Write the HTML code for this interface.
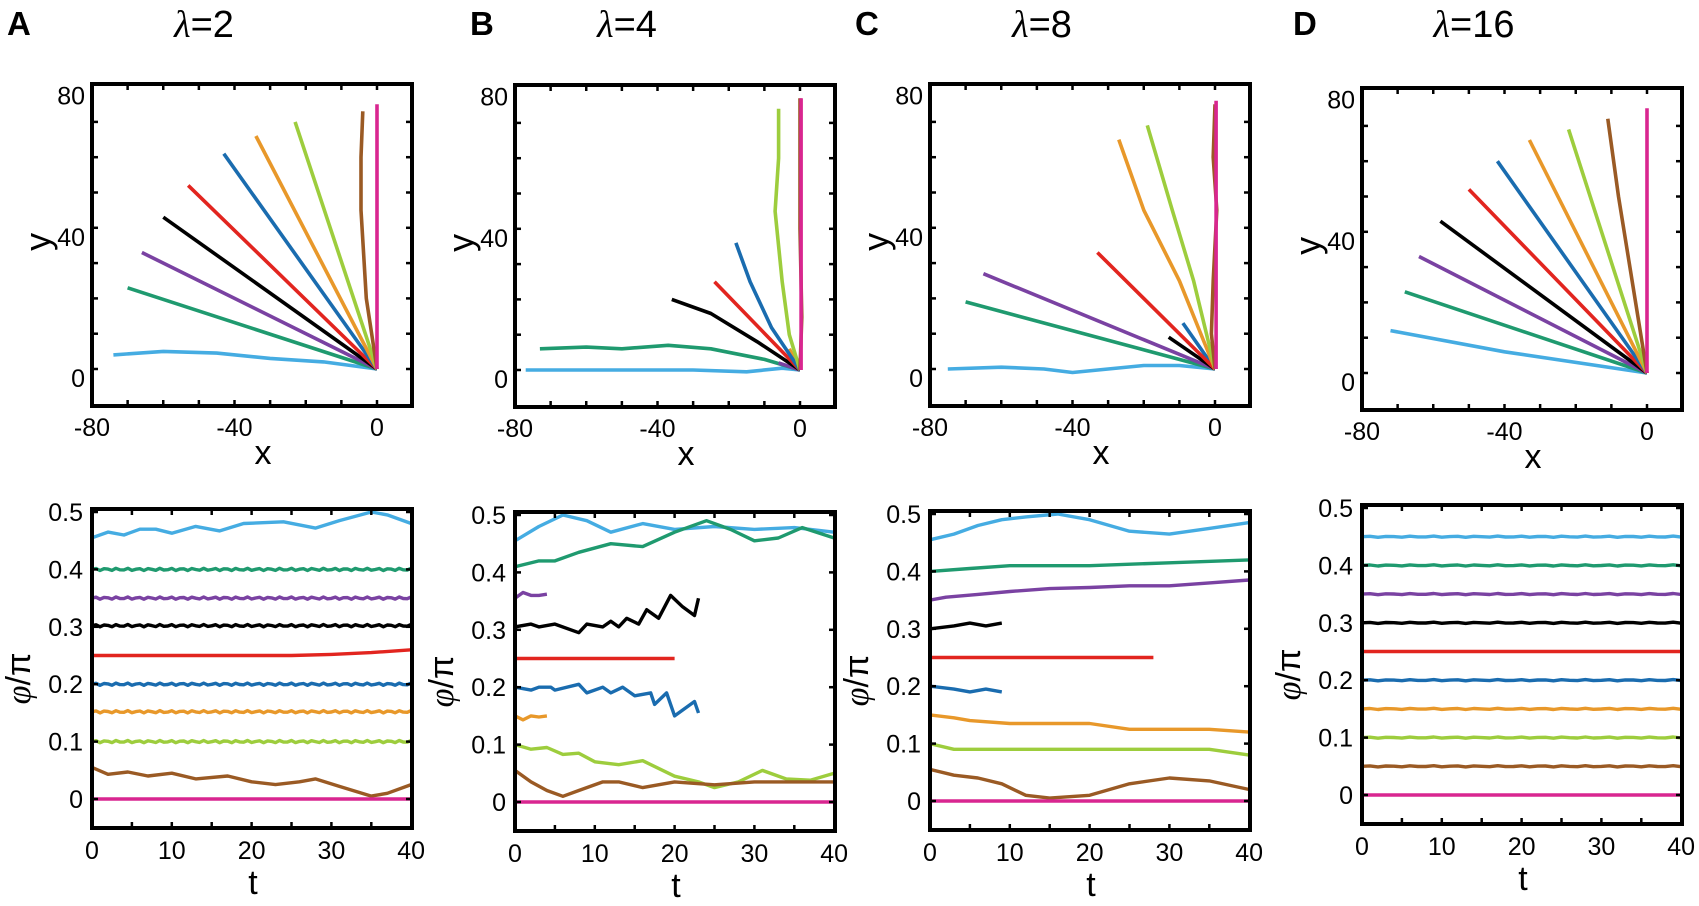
<!DOCTYPE html>
<html><head><meta charset="utf-8"><style>
html,body{margin:0;padding:0;background:#fff;}
svg{display:block;font-family:"Liberation Sans",sans-serif;}
</style></head><body>
<svg id="s" width="1699" height="906" viewBox="0 0 1699 906" xmlns="http://www.w3.org/2000/svg"></svg>
<script>
const S=document.getElementById('s');
let out='';
const C={lb:'#45ace2',gr:'#1f9a6f',pu:'#7a42a2',bk:'#000',rd:'#e2251f',bl:'#1a6caf',or:'#e8982a',lg:'#9dcd3d',br:'#9a5a24',mg:'#d92690'};
const panels=[
 {L:'A',lx:7,X0:92,title:'2',tdy:0,bdy:0},
 {L:'B',lx:470,X0:515,title:'4',tdy:1,bdy:3},
 {L:'C',lx:855,X0:930,title:'8',tdy:0,bdy:2},
 {L:'D',lx:1293,X0:1362,title:'16',tdy:4,bdy:-4}
];
const tops=[
 [['lb',[[-74,4],[-60,5],[-45,4.5],[-30,3],[-15,2],[0,0]]],['gr',[[-70,23],[0,0]]],['pu',[[-66,33],[0,0]]],['bk',[[-60,43],[0,0]]],['rd',[[-53,52],[0,0]]],['bl',[[-43,61],[0,0]]],['or',[[-34,66],[0,0]]],['lg',[[-23,70],[0,0]]],['br',[[-4,73],[-4.5,60],[-4.5,45],[-3,20],[0,0]]],['mg',[[0,75],[0,0]]]],
 [['lb',[[-77,0],[-50,0],[-30,0],[-15,-0.5],[-5,0.5],[0,0]]],['gr',[[-73,6],[-60,6.5],[-50,6],[-37,7],[-25,6],[-10,3],[0,0]]],['pu',[[-6,2],[0,0]]],['or',[[-3,6],[0,0]]],['bk',[[-36,20],[-25,16],[-12,8],[0,0]]],['rd',[[-24,25],[0,0]]],['bl',[[-18,36],[-14,25],[-8,12],[0,0]]],['lg',[[-6,74],[-6,60],[-7,45],[-5,25],[-3,10],[0,0]]],['br',[[0,77],[0,40],[0.5,15],[0,0]]],['mg',[[0.3,77],[0.3,0]]]],
 [['lb',[[-75,0],[-60,0.5],[-48,0],[-40,-1],[-30,0],[-20,1],[-10,1],[0,0]]],['gr',[[-70,19],[0,0]]],['pu',[[-65,27],[0,0]]],['bk',[[-13,9],[0,0]]],['bl',[[-9,13],[0,0]]],['rd',[[-33,33],[0,0]]],['or',[[-27,65],[-20,45],[-10,25],[0,0]]],['lg',[[-19,69],[-12,45],[-6,25],[0,0]]],['br',[[0,75],[-0.5,60],[0.5,45],[-0.5,25],[-1,10],[0,0]]],['mg',[[0.3,76],[0.3,0]]]],
 [['lb',[[-72,12],[-40,6],[0,0]]],['gr',[[-68,23],[0,0]]],['pu',[[-64,33],[0,0]]],['bk',[[-58,43],[0,0]]],['rd',[[-50,52],[0,0]]],['bl',[[-42,60],[0,0]]],['or',[[-33,66],[0,0]]],['lg',[[-22,69],[0,0]]],['br',[[-11,72],[-8,50],[0,0]]],['mg',[[0,75],[0,0]]]]
];
function jit(v,amp,n){const a=[];for(let i=0;i<=n;i++){const t=40*i/n;a.push([t,v+amp*Math.sin(i*2.3)]);}return a;}
const bots=[
 [['lb',[[0,.455],[2,.465],[4,.46],[6,.47],[8,.47],[10,.463],[13,.475],[16,.467],[19,.48],[24,.483],[28,.472],[31,.485],[35,.5],[37,.495],[40,.48]]],['gr',jit(.4,.002,80)],['pu',jit(.35,.002,80)],['bk',jit(.302,.002,80)],['rd',[[0,.25],[25,.25],[30,.252],[35,.255],[40,.26]]],['bl',jit(.2,.002,80)],['or',jit(.152,.002,80)],['lg',jit(.1,.002,80)],['br',[[0,.055],[2,.043],[4.5,.047],[7,.04],[10,.045],[13,.035],[17,.04],[20,.03],[23,.025],[26,.03],[28,.035],[31,.022],[35,.005],[37,.01],[40,.025]]],['mg',[[0,0],[40,0]]]],
 [['lb',[[0,.455],[3,.48],[6,.5],[9,.49],[12,.47],[16,.485],[20,.475],[25,.48],[30,.475],[35,.478],[40,.47]]],['gr',[[0,.41],[3,.42],[5,.42],[8,.435],[12,.45],[16,.445],[20,.47],[24,.49],[27,.475],[30,.455],[33,.46],[36,.478],[40,.46]]],['pu',[[0,.355],[1,.365],[2,.36],[3,.36],[4,.362]]],['bk',[[0,.305],[2,.31],[3,.305],[5,.31],[8,.295],[9,.31],[11,.305],[12,.315],[13,.305],[14,.32],[15.5,.31],[16.5,.335],[18,.32],[19.5,.36],[21,.34],[22.5,.325],[23,.355]]],['rd',[[0,.25],[20,.25]]],['bl',[[0,.2],[2,.195],[3,.2],[4.5,.2],[5,.195],[8,.205],[9,.19],[11,.2],[12,.19],[13.5,.2],[15,.185],[17,.19],[17.5,.17],[19,.19],[20,.15],[22.5,.175],[23,.155]]],['or',[[0,.15],[1,.143],[2,.15],[3,.148],[4,.15]]],['lg',[[0,.1],[2,.092],[4,.095],[6,.083],[8,.085],[10,.07],[13,.065],[16,.072],[20,.045],[23,.035],[25,.025],[28,.035],[31,.055],[34,.04],[37,.038],[40,.05]]],['br',[[0,.055],[2,.035],[4,.02],[6,.01],[8,.02],[11,.035],[13,.035],[16,.025],[20,.035],[25,.03],[30,.035],[35,.035],[40,.035]]],['mg',[[0,0],[40,0]]]],
 [['lb',[[0,.455],[3,.465],[6,.48],[9,.49],[12,.495],[16,.5],[20,.49],[25,.47],[30,.465],[35,.475],[40,.485]]],['gr',[[0,.4],[5,.405],[10,.41],[15,.41],[20,.41],[30,.415],[40,.42]]],['pu',[[0,.35],[2,.355],[6,.36],[10,.365],[15,.37],[20,.372],[25,.375],[30,.375],[35,.38],[40,.385]]],['bk',[[0,.3],[3,.305],[5,.31],[7,.305],[9,.31]]],['rd',[[0,.25],[28,.25]]],['bl',[[0,.2],[3,.195],[5,.19],[7,.195],[9,.19]]],['or',[[0,.15],[3,.145],[5,.14],[10,.135],[20,.135],[25,.125],[30,.125],[35,.125],[40,.12]]],['lg',[[0,.1],[3,.09],[10,.09],[20,.09],[30,.09],[35,.09],[40,.08]]],['br',[[0,.055],[3,.045],[6,.04],[9,.03],[12,.01],[15,.005],[20,.01],[25,.03],[30,.04],[35,.035],[40,.02]]],['mg',[[0,0],[40,0]]]],
 [['lb',jit(.45,.001,40)],['gr',jit(.4,.001,40)],['pu',jit(.35,.001,40)],['bk',jit(.3,.001,40)],['rd',[[0,.25],[40,.25]]],['bl',jit(.2,.001,40)],['or',jit(.15,.001,40)],['lg',jit(.1,.001,40)],['br',jit(.05,.001,40)],['mg',[[0,0],[40,0]]]]
];
function path(pts,fx,fy,col,w){return `<polyline fill="none" stroke="${col}" stroke-width="${w}" stroke-linejoin="round" points="${pts.map(p=>fx(p[0]).toFixed(1)+','+fy(p[1]).toFixed(1)).join(' ')}"/>`;}
panels.forEach((P,i)=>{
 const X0=P.X0,W=320;
 out+=`<text x="${P.lx}" y="35" font-size="33" font-weight="bold">${P.L}</text>`;
 out+=`<text x="${X0+112}" y="37" font-size="38" text-anchor="middle"><tspan font-family="Liberation Serif" font-style="italic">λ</tspan>=${P.title}</text>`;
 const td=P.tdy, T0=84+td, T1=406+td;
 const fx=x=>X0+(x+80)*3.5625, fy=y=>369+td-y*3.53;
 out+=`<clipPath id="ct${i}"><rect x="${X0}" y="${T0}" width="${W}" height="${T1-T0}"/></clipPath><g clip-path="url(#ct${i})">`;
 tops[i].forEach(s=>out+=path(s[1],fx,fy,C[s[0]],3.6));
 out+='</g>';
 for(let x=-70;x<=0;x+=10){out+=`<line x1="${fx(x)}" x2="${fx(x)}" y1="${T1}" y2="${T1-6}" stroke="#000" stroke-width="2.5"/><line x1="${fx(x)}" x2="${fx(x)}" y1="${T0}" y2="${T0+6}" stroke="#000" stroke-width="2.5"/>`;}
 for(let y=0;y<=70;y+=10){out+=`<line x1="${X0}" x2="${X0+6}" y1="${fy(y)}" y2="${fy(y)}" stroke="#000" stroke-width="2.5"/><line x1="${X0+W}" x2="${X0+W-6}" y1="${fy(y)}" y2="${fy(y)}" stroke="#000" stroke-width="2.5"/>`;}
 out+=`<rect x="${X0}" y="${T0}" width="${W}" height="${T1-T0}" fill="none" stroke="#000" stroke-width="4"/>`;
 [-80,-40,0].forEach(x=>out+=`<text x="${fx(x)}" y="${T1+30}" font-size="25" text-anchor="middle">${x}</text>`);
 [[0,'0'],[40,'40'],[80,'80']].forEach(a=>out+=`<text x="${X0-7}" y="${fy(a[0])+18}" font-size="25" text-anchor="end">${a[1]}</text>`);
 out+=`<text x="${X0+171}" y="${T1+58}" font-size="34" text-anchor="middle">x</text>`;
 out+=`<text transform="translate(${X0-42},${fy(36)}) rotate(-90)" font-size="36" text-anchor="middle">y</text>`;
 const bd=P.bdy, B0=509+bd, B1=828+bd;
 const gx=t=>X0+t*7.98, gy=v=>799+bd-v*574;
 out+=`<clipPath id="cb${i}"><rect x="${X0}" y="${B0}" width="${W}" height="${B1-B0}"/></clipPath><g clip-path="url(#cb${i})">`;
 bots[i].forEach(s=>out+=path(s[1],gx,gy,C[s[0]],3.4));
 out+='</g>';
 for(let t=5;t<40;t+=5){out+=`<line x1="${gx(t)}" x2="${gx(t)}" y1="${B1}" y2="${B1-6}" stroke="#000" stroke-width="2.5"/><line x1="${gx(t)}" x2="${gx(t)}" y1="${B0}" y2="${B0+6}" stroke="#000" stroke-width="2.5"/>`;}
 for(let v=0;v<=0.5;v+=0.1){out+=`<line x1="${X0}" x2="${X0+6}" y1="${gy(v)}" y2="${gy(v)}" stroke="#000" stroke-width="2.5"/><line x1="${X0+W}" x2="${X0+W-6}" y1="${gy(v)}" y2="${gy(v)}" stroke="#000" stroke-width="2.5"/>`;}
 out+=`<rect x="${X0}" y="${B0}" width="${W}" height="${B1-B0}" fill="none" stroke="#000" stroke-width="4"/>`;
 [0,10,20,30,40].forEach(t=>out+=`<text x="${gx(t)}" y="${B1+31}" font-size="25" text-anchor="middle">${t}</text>`);
 ['0','0.1','0.2','0.3','0.4','0.5'].forEach((l,k)=>out+=`<text x="${X0-9}" y="${gy(k/10)+9}" font-size="25" text-anchor="end">${l}</text>`);
 out+=`<text x="${X0+161}" y="${B1+66}" font-size="34" text-anchor="middle">t</text>`;
 out+=`<text transform="translate(${X0-62},${gy(0.21)}) rotate(-90)" font-size="34" text-anchor="middle"><tspan font-family="Liberation Serif" font-style="italic">φ</tspan>/π</text>`;
});
S.innerHTML=out;
</script>
</body></html>
